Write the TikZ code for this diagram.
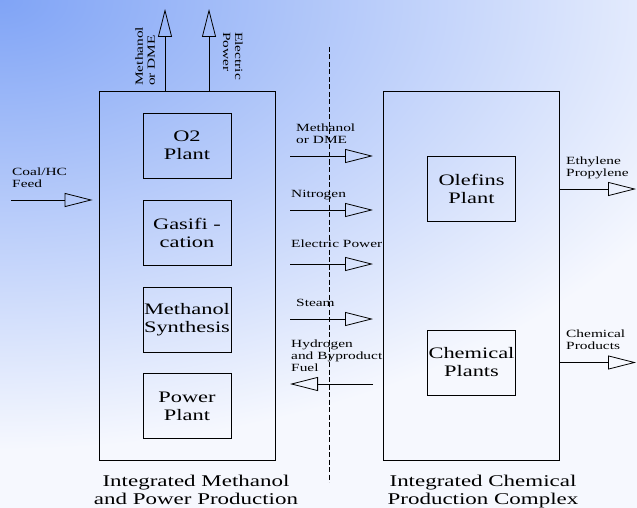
\documentclass[tikz,border=0pt]{standalone}
\usepackage{fontspec}
\setmainfont[FakeStretch=1.4]{Liberation Serif}
\usetikzlibrary{arrows,arrows.meta}

\definecolor{bgblue}{RGB}{128,164,246}
\definecolor{bgpale}{RGB}{246,248,254}
\pgfdeclareradialshading{bgglow}{\pgfpoint{0bp}{0bp}}{color(0bp)=(bgblue); color(25bp)=(bgpale); color(50bp)=(bgpale)}

\begin{document}
\begin{tikzpicture}[
x=1pt, y=-1pt,
plant/.style={draw, line width=0.8pt, minimum width=88pt, minimum height=65pt, inner sep=0pt, align=center, font=\fontsize{16}{18}\selectfont},
complex/.style={draw, line width=0.8pt, minimum width=176pt, minimum height=369pt, inner sep=0pt},
flowlabel/.style={font=\fontsize{11}{12}\selectfont, align=left, inner sep=0pt, text depth=0pt, anchor=south west},
caption/.style={font=\fontsize{16.4}{18}\selectfont, align=center, inner sep=0pt, text depth=0pt, anchor=south},
flow/.style={-{Triangle[open,length=28pt,width=14pt]}, line width=0.8pt},
divider/.style={dash pattern=on 5pt off 2.5pt, line width=0.7pt} ]

\useasboundingbox (0,0) rectangle (637,508);

\fill[bgpale] (0,0) rectangle (637,508);
\begin{scope}
\clip (0,0) rectangle (637,508);
\shade[shading=bgglow] (0,0) ellipse (760 and 450);
\end{scope}

\coordinate (divtop) at (329,47);
\coordinate (divbot) at (329,482);
\draw[divider] (divtop) -- (divbot);

\node[complex](mpp) at (187,275.5) {};

\node[complex](icc) at (471,275.5) {};

\node[plant](o2) at (187,145.5) {O2\\Plant};

\node[plant](gasif) at (187,232.5) {Gasifi -\\cation};

\node[plant](meoh) at (187,319.5) {Methanol\\Synthesis};

\node[plant](power) at (187,406) {Power\\Plant};

\node[plant](olefins) at (471.5,189) {Olefins\\Plant};

\node[plant](chem) at (471.5,362.5) {Chemical\\Plants};

\coordinate (meohtop) at (165,9);
\coordinate (electop) at (209,9);
\draw[flow] (mpp.north -| meohtop) -- (meohtop);
\draw[flow] (mpp.north -| electop) -- (electop);
\node[flowlabel, rotate=90](meohtxt) at (155,86) {Methanol\\or DME};
\node[flowlabel, rotate=-90](electxt) at (223,32) {Electric\\Power};

\coordinate (feed) at (11,200);
\draw[flow, shorten >=6pt] (feed) -- (feed -| mpp.west);
\node[flowlabel](feedtxt) at (12,188) {Coal/HC\\Feed};

\foreach \n/\y in {dme/156, nit/210, pow/264, stm/319, hyd/384} {
  \coordinate (\n L) at (290,\y);
  \coordinate (\n R) at (373,\y);
}

\draw[flow] (dmeL) -- (dmeR);
\node[flowlabel](dmetxt) at (296,144) {Methanol\\or DME};

\draw[flow] (nitL) -- (nitR);
\node[flowlabel](nittxt) at (291,198) {Nitrogen};

\draw[flow] (powL) -- (powR);
\node[flowlabel](powtxt) at (291,248) {Electric Power};

\draw[flow] (stmL) -- (stmR);
\node[flowlabel](stmtxt) at (296,307) {Steam};

\draw[flow] (hydR) -- (hydL);
\node[flowlabel](hydtxt) at (291,372) {Hydrogen\\and Byproduct\\Fuel};

\coordinate (ethout) at (636,189);
\coordinate (chemout) at (636,362.5);
\draw[flow] (olefins -| icc.east) -- (ethout);
\node[flowlabel](ethtxt) at (566,177) {Ethylene\\Propylene};
\draw[flow] (chem -| icc.east) -- (chemout);
\node[flowlabel](chemtxt) at (566,350) {Chemical\\Products};

\node[caption](mpptxt) at (196,505) {Integrated Methanol\\and Power Production};

\node[caption](icctxt) at (483,505) {Integrated Chemical\\Production Complex};
\end{tikzpicture}
\end{document}
